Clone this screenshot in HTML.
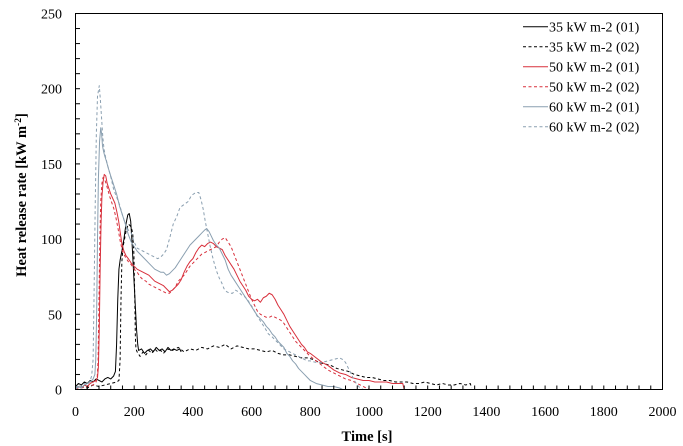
<!DOCTYPE html>
<html><head><meta charset="utf-8"><style>
html,body{margin:0;padding:0;background:#fff;}
svg{display:block;}
text{font-family:"Liberation Serif",serif;fill:#000;}
.tk{font-size:14px;}
.lg{font-size:14px;}
.ax{font-size:14.5px;font-weight:bold;}
.s{fill:none;stroke-width:1;vector-effect:non-scaling-stroke;stroke-linejoin:round;}
.d{stroke-dasharray:3 2.5;}
.k{stroke:#000;}
.r{stroke:#d8303c;}
.g{stroke:#8a9fb0;}
</style></head><body>
<svg width="683" height="446" viewBox="0 0 683 446" xmlns="http://www.w3.org/2000/svg">
<defs>
<pattern id="px" patternUnits="userSpaceOnUse" x="75" y="0" width="11.74" height="446"><rect x="0" y="0" width="1" height="446" fill="#000"/></pattern>
<pattern id="py" patternUnits="userSpaceOnUse" x="0" y="13" width="683" height="15.04"><rect x="0" y="0" width="683" height="1" fill="#000"/></pattern>
</defs>
<rect x="0" y="0" width="683" height="446" fill="#fff"/>

<g transform="translate(75.5 389.5) scale(0.2935 -1.504)">
<polyline class="s k" points="0,2 10,4 20,3 30,5 40,4 50,6 60,5 70,7 80,6 90,5 100,7 110,8 120,7 130,9 136,12 140,30 144,60 148,80 152,86 158,92 165,100 172,110 178,116 183,117 188,112 192,100 196,85 200,70 204,55 208,40 212,30 215,26 225,27 235,24 245,26 255,27 265,25 275,28 285,26 295,27 305,25 315,28 325,26 335,27 345,26 355,27 360,25"/>
<polyline class="s k d" points="0,1 20,2 40,1 60,3 80,2 100,3 120,4 140,5 148,6 152,20 155,60 158,85 162,95 167,100 173,106 180,110 186,109 191,107 195,104 199,90 202,60 204,35 206,27 210,25 220,22 230,25 240,23 250,26 260,24 270,27 280,25 290,26 300,24 310,27 330,26 350,28 370,25 390,27 410,26 430,28 450,27 470,29 490,28 510,30 530,27 550,29 570,28 590,27 610,27 630,26 650,25 670,26 690,24 710,23 730,23 750,22 770,21 790,21 810,20 830,18 850,17 870,16 890,14 910,13 930,12 950,10 970,9 990,8 1010,8 1030,7 1050,6 1070,6 1090,5 1110,5 1130,5 1150,4 1170,4 1190,5 1210,4 1230,3 1250,4 1270,3 1290,3 1310,4 1330,3 1345,4 1350,1"/>
<polyline class="s r" points="0,0 10,2 20,1 30,3 40,2 50,4 60,5 70,6 75,8 78,15 81,40 84,80 87,110 90,128 94,138 98,143 103,142 108,137 113,134 120,130 127,127 134,124 141,118 147,112 152,105 158,97 165,92 172,89 180,87 190,84 200,82 210,80 220,79 230,78 240,77 250,76 260,74 270,72 280,71 290,70 300,69 310,67 320,65 330,66 340,68 350,70 360,73 370,78 380,82 390,85 400,87 410,91 420,94 430,96 440,95 450,97 460,98 470,97 480,95 490,94 500,93 510,89 520,86 530,83 540,80 550,76 560,72 570,69 580,66 590,62 600,60 610,59 620,60 630,58 640,61 650,62 660,64 670,63 680,60 690,56 700,53 710,50 720,46 730,42 740,39 750,36 760,33 770,30 780,28 790,25 800,24 820,21 840,18 860,16 880,13 900,11 920,10 940,8 960,7 980,6 1000,6 1020,5 1040,5 1060,5 1080,4 1100,4 1115,4 1120,0"/>
<polyline class="s r d" points="0,0 20,1 40,2 60,3 70,5 74,8 77,20 80,60 83,100 86,125 90,137 94,141 99,140 104,137 110,133 117,128 124,124 131,120 138,114 145,107 152,99 160,92 170,88 180,85 190,83 200,80 210,78 220,75 230,73 240,72 250,70 260,69 270,68 280,67 290,66 300,65 310,64 320,64 330,66 340,68 350,72 360,74 370,76 380,79 390,82 400,84 410,86 420,88 430,90 440,91 450,92 460,93 470,94 480,95 490,98 500,100 510,101 520,98 530,95 540,90 550,85 560,80 570,75 580,70 590,65 600,60 610,56 620,52 630,50 640,49 650,48 660,48 670,49 680,48 690,47 700,46 710,44 720,41 730,38 740,35 750,32 760,30 770,28 780,26 790,24 800,22 820,19 840,16 860,13 880,11 900,9 920,7 940,6 960,4 980,2 990,1 1000,0"/>
<polyline class="s g" points="0,0 10,2 20,1 30,3 40,4 50,5 60,7 66,10 69,20 72,50 75,100 78,140 82,165 86,174 89,170 92,162 96,158 100,155 105,152 112,147 120,142 130,136 140,130 150,122 160,116 170,110 180,103 190,98 200,95 210,92 220,90 230,88 240,86 250,84 260,82 270,80 280,79 290,78 300,78 310,76 320,77 330,79 340,81 350,84 360,87 370,90 380,93 390,96 400,98 410,100 420,102 430,104 440,106 447,107 455,105 460,103 470,99 480,96 490,94 500,90 510,86 520,80 530,76 540,73 550,70 560,67 570,64 580,61 590,58 600,55 610,52 620,49 630,47 640,45 650,42 660,40 670,37 680,35 690,32 700,30 710,28 720,24 730,22 740,19 750,17 760,14 770,12 780,10 790,8 800,6 820,4 840,3 860,2 880,2 900,1 910,0"/>
<polyline class="s g d" points="0,1 10,3 20,2 30,4 40,3 50,6 55,9 60,20 63,60 67,120 71,170 75,195 81,202 85,192 89,180 93,168 97,160 102,155 108,150 115,145 122,140 130,133 140,128 150,123 160,116 170,110 180,106 190,104 200,98 210,94 220,93 230,92 240,91 250,90 260,89 270,88 280,87 290,88 300,90 310,93 320,100 333,110 345,115 356,121 370,123 384,125 395,129 410,131 420,131 428,126 435,120 442,112 450,104 458,96 466,89 474,83 482,78 490,74 498,71 506,67 515,65 525,64 535,64 545,66 555,65 565,63 575,62 585,60 595,57 605,54 615,50 625,47 635,44 645,41 657,37 670,35 680,33 690,31 700,29 710,27 720,26 730,25 740,24 750,23 760,22 770,21 780,20 790,19 800,19 820,18 840,18 860,19 880,20 900,21 910,20 920,18 930,14 940,10 950,6 960,3 970,1 980,0"/>
</g>

<rect x="75.5" y="13.5" width="587" height="376" fill="none" stroke="#000" stroke-width="1"/>
<rect x="75" y="385.5" width="588" height="4" fill="url(#px)"/>
<rect x="76" y="13" width="4" height="377" fill="url(#py)"/>

<g class="tk" text-anchor="end">
<text x="62" y="18.5">250</text>
<text x="62" y="93.7">200</text>
<text x="62" y="168.9">150</text>
<text x="62" y="244.1">100</text>
<text x="62" y="319.3">50</text>
<text x="62" y="394.5">0</text>
</g>
<g class="tk" text-anchor="middle">
<text x="75.5" y="416">0</text>
<text x="134.2" y="416">200</text>
<text x="192.9" y="416">400</text>
<text x="251.6" y="416">600</text>
<text x="310.3" y="416">800</text>
<text x="369" y="416">1000</text>
<text x="427.7" y="416">1200</text>
<text x="486.4" y="416">1400</text>
<text x="545.1" y="416">1600</text>
<text x="603.8" y="416">1800</text>
<text x="662.5" y="416">2000</text>
</g>
<text class="ax" x="367" y="441" text-anchor="middle">Time [s]</text>
<text class="ax" transform="translate(26 195) rotate(-90)" text-anchor="middle">Heat release rate [kW m<tspan font-size="9.5" dy="-5">-2</tspan><tspan dy="5">]</tspan></text>

<g>
<line x1="523" y1="26.7" x2="548" y2="26.7" class="s k"/>
<line x1="523" y1="46.7" x2="548" y2="46.7" class="s k d"/>
<line x1="523" y1="66.7" x2="548" y2="66.7" class="s r"/>
<line x1="523" y1="86.7" x2="548" y2="86.7" class="s r d"/>
<line x1="523" y1="106.7" x2="548" y2="106.7" class="s g"/>
<line x1="523" y1="126.7" x2="548" y2="126.7" class="s g d"/>
</g>
<g class="lg">
<text x="549" y="31.5">35 kW m-2 (01)</text>
<text x="549" y="51.5">35 kW m-2 (02)</text>
<text x="549" y="71.5">50 kW m-2 (01)</text>
<text x="549" y="91.5">50 kW m-2 (02)</text>
<text x="549" y="111.5">60 kW m-2 (01)</text>
<text x="549" y="131.5">60 kW m-2 (02)</text>
</g>
</svg>
</body></html>
